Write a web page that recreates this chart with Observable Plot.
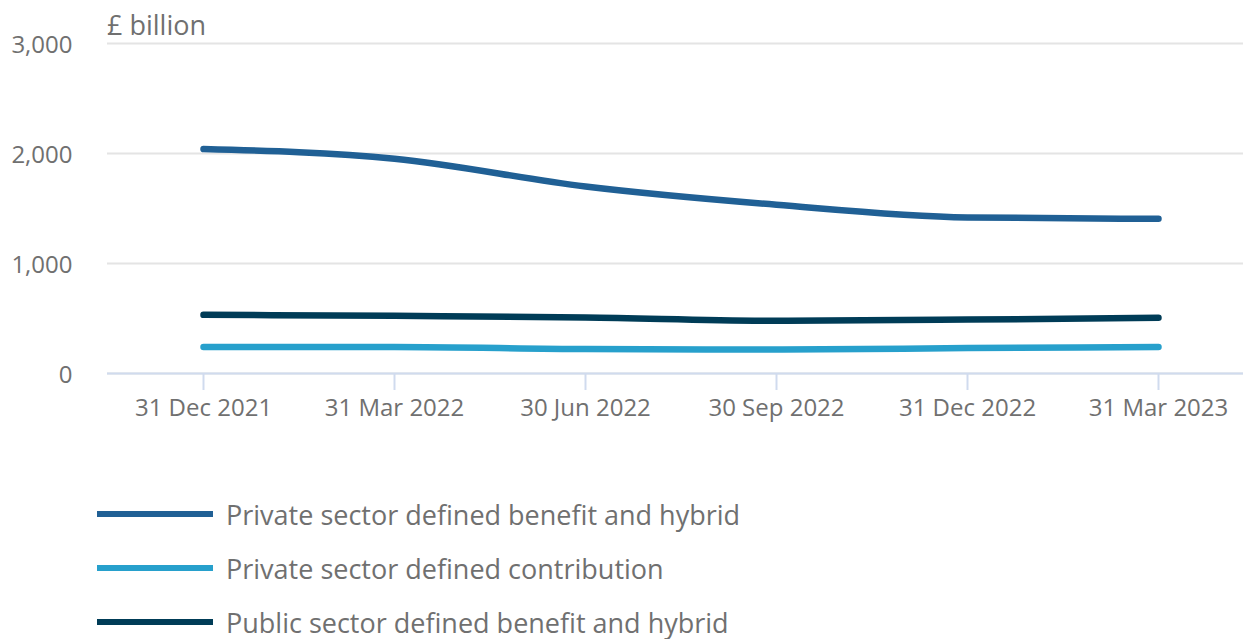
<!DOCTYPE html>
<html>
<head>
<meta charset="utf-8">
<script src="https://cdn.jsdelivr.net/npm/d3@7"></script>
<script src="https://cdn.jsdelivr.net/npm/@observablehq/plot@0.6"></script>
<style>
  body { margin: 0; background: #fff; font-family: "Open Sans", sans-serif; }
  #chart { position: relative; width: 1243px; }
  .unit { position: absolute; left: 107px; top: 9px; font-size: 27px; color: #707070; line-height: 1.2; z-index: 1; }
  .legend { margin-top: 27px; }
  .row { display: flex; align-items: center; height: 54px; font-size: 27px; color: #707070; }
  .sw { width: 116px; height: 6px; margin-left: 97px; margin-right: 13px; }
</style>
</head>
<body>
<div id="chart"><div class="unit">£ billion</div></div>
<script>
const dates = ["31 Dec 2021", "31 Mar 2022", "30 Jun 2022", "30 Sep 2022", "31 Dec 2022", "31 Mar 2023"];
const seriesNames = ["Private sector defined benefit and hybrid", "Private sector defined contribution", "Public sector defined benefit and hybrid"];
const colors = ["#206095", "#27a0cc", "#003c57"];
const privateDB = [2040, 1953, 1700, 1534, 1419, 1406];
const privateDC = [240, 240, 222, 218, 231, 242];
const publicDB = [533, 524, 509, 479, 490, 506];
const yTicks = [0, 1000, 2000, 3000];

const series = [privateDB, privateDC, publicDB];
const data = [];
series.forEach((vals, i) => vals.forEach((v, j) => data.push({date: dates[j], value: v, series: seriesNames[i]})));

const plot = Plot.plot({
  width: 1243,
  height: 460,
  marginTop: 43,
  marginBottom: 87,
  marginLeft: 107,
  marginRight: 0,
  style: {fontFamily: "Open Sans", fontSize: "24px", color: "#707070", background: "#fff"},
  x: {type: "point", domain: dates, range: [202, 1158], padding: 0, label: null},
  y: {domain: [0, 3000], label: null},
  color: {domain: seriesNames, range: colors},
  marks: [
    Plot.gridY(yTicks, {stroke: "#e4e4e4", strokeOpacity: 1, strokeWidth: 2}),
    Plot.axisY(yTicks, {tickSize: 0, tickPadding: 35, dy: 2, tickFormat: d3.format(","), fontSize: 24, fill: "#707070"}),
    Plot.ruleY([0], {stroke: "#d0dbee", strokeWidth: 2}),
    Plot.axisX({tickSize: 17, stroke: "#d0dbee", strokeWidth: 2, tickPadding: 8, fontSize: 24, fill: "#707070"}),
    Plot.line(data, {x: "date", y: "value", z: "series", stroke: "series", strokeWidth: 6.5, curve: "monotone-x", strokeLinecap: "round", strokeLinejoin: "round"})
  ]
});
document.getElementById("chart").appendChild(plot);

const legend = document.createElement("div");
legend.className = "legend";
seriesNames.forEach((name, i) => {
  const row = document.createElement("div");
  row.className = "row";
  const sw = document.createElement("div");
  sw.className = "sw";
  sw.style.background = colors[i];
  const label = document.createElement("span");
  label.textContent = name;
  row.appendChild(sw);
  row.appendChild(label);
  legend.appendChild(row);
});
document.body.appendChild(legend);
</script>
</body>
</html>
